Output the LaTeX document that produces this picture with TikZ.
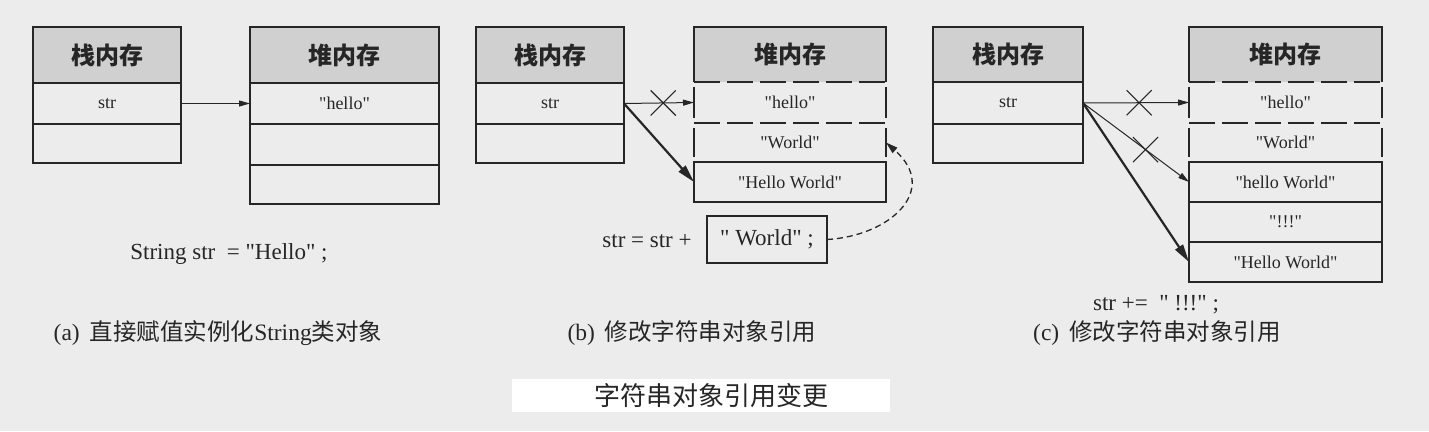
\documentclass[tikz,border=0pt]{standalone}
\usepackage{fontspec}
\setmainfont{Liberation Serif}[Ligatures=TeXOff]
\newfontfamily\cjk{Noto Sans CJK SC}
\usetikzlibrary{arrows.meta,shapes.misc}
\definecolor{pagebg}{HTML}{ECECEC}
\definecolor{headgray}{HTML}{D0D0D0}
\definecolor{ink}{HTML}{262626}
\begin{document}
\begin{tikzpicture}[x=1pt,y=-1pt,
  cellfont/.style={font=\fontsize{18}{18}\selectfont},
  codefont/.style={font=\fontsize{23}{23}\selectfont, text=ink, inner sep=0pt},
  capfont/.style={font=\fontsize{23.5}{23.5}\selectfont, text=ink, inner sep=0pt},
  box/.style={draw=ink, line width=1.2pt, inner sep=0pt, outer sep=0pt, text=ink, cellfont},
  boxthick/.style={box, line width=2pt},
  head/.style={box, fill=headgray, font=\cjk\bfseries\fontsize{24}{24}\selectfont},
  headopen/.style={fill=headgray, inner sep=0pt, outer sep=0pt, text=ink, font=\cjk\bfseries\fontsize{24}{24}\selectfont},
  cellopen/.style={inner sep=0pt, outer sep=0pt, text=ink, cellfont},
  rim/.style={draw=ink, line width=1.2pt},
  gcdash/.style={draw=ink, line width=2.2pt, dash pattern=on 26pt off 7pt},
  gcside/.style={draw=ink, line width=2.2pt, shorten <=5pt, shorten >=5pt},
  thinarrow/.style={draw=ink, line width=1pt, -{Triangle[length=11pt,width=6pt]}},
  thickarrow/.style={draw=ink, line width=2.2pt, -{Triangle[length=18pt,width=9pt]}},
  xmark/.style={cross out, draw=ink, line width=1.1pt, minimum width=24pt, minimum height=24pt, inner sep=0pt},
  linkcurve/.style={draw=ink, line width=1.3pt, dash pattern=on 6pt off 4pt, -{Triangle[length=12pt,width=7pt]}}
]
\fill[pagebg] (0,0) rectangle (1429,431);
\useasboundingbox (0,0) rectangle (1429,431);

% ---------- panel (a)
\node[head, minimum width=148pt, minimum height=56pt] (a-sh) at (107,55) {栈内存};
\node[box, minimum width=148pt, minimum height=41pt] (a-ss) at (107,103.5) {str};
\node[box, minimum width=148pt, minimum height=39pt] (a-se) at (107,143.5) {};
\node[head, minimum width=189pt, minimum height=56pt] (a-hh) at (344.5,55) {堆内存};
\node[box, minimum width=189pt, minimum height=41pt] (a-h1) at (344.5,103.5) {"hello"};
\node[box, minimum width=189pt, minimum height=41pt] (a-h2) at (344.5,144.5) {};
\node[box, minimum width=189pt, minimum height=39pt] (a-h3) at (344.5,184.5) {};
\draw[thinarrow] (a-ss.east) -- (a-h1.west);
\node[codefont] (a-code) at (229,254) {String str\ \ = "Hello" ;};
\node[capfont] (a-cap) at (218,333) {(a)\hspace{10pt}{\cjk 直接赋值实例化}String{\cjk 类对象}};

% ---------- panel (b)
\node[head, minimum width=148pt, minimum height=56pt] (b-sh) at (550,55) {栈内存};
\node[box, minimum width=148pt, minimum height=41pt] (b-ss) at (550,103.5) {str};
\node[box, minimum width=148pt, minimum height=39pt] (b-se) at (550,143.5) {};
\node[headopen, minimum width=192pt, minimum height=55pt] (b-hh) at (790,54.5) {堆内存};
\draw[rim] (b-hh.south west) |- (b-hh.north east) -- (b-hh.south east);
\node[cellopen, minimum width=192pt, minimum height=41pt] (b-h1) at (790,102.5) {"hello"};
\node[cellopen, minimum width=192pt, minimum height=39pt] (b-h2) at (790,142.5) {"World"};
\node[box, minimum width=192pt, minimum height=40pt] (b-h3) at (790,182) {"Hello World"};
\draw[gcdash] (b-h1.north west) -- (b-h1.north east);
\draw[gcdash] (b-h1.south west) -- (b-h1.south east);
\draw[gcside] (b-h1.north west) -- (b-h1.south west);
\draw[gcside] (b-h1.north east) -- (b-h1.south east);
\draw[gcside] (b-h2.north west) -- (b-h2.south west);
\draw[gcside] (b-h2.north east) -- (b-h2.south east);
\draw[thinarrow] (b-ss.east) -- node[xmark, pos=0.56] (b-x) {} (b-h1.west);
\draw[thickarrow] (b-ss.east) -- (b-h3.west);
\node[codefont] (b-pre) at (647,241) {str = str +};
\node[box, codefont, minimum width=120pt, minimum height=47pt] (b-code) at (767,239.5) {" World" ;};
\draw[linkcurve] (b-code.east) .. controls (890,236) and (940,190) .. (b-h2.east);
\node[capfont] (b-cap) at (692,333) {(b)\hspace{10pt}{\cjk 修改字符串对象引用}};

% ---------- panel (c)
\node[head, minimum width=150pt, minimum height=55pt] (c-sh) at (1008,54.5) {栈内存};
\node[box, minimum width=150pt, minimum height=42pt] (c-ss) at (1008,103) {str};
\node[box, minimum width=150pt, minimum height=39pt] (c-se) at (1008,143.5) {};
\node[headopen, minimum width=193pt, minimum height=55pt] (c-hh) at (1285.5,54.5) {堆内存};
\draw[rim] (c-hh.south west) |- (c-hh.north east) -- (c-hh.south east);
\node[cellopen, minimum width=193pt, minimum height=41pt] (c-h1) at (1285.5,102.5) {"hello"};
\node[cellopen, minimum width=193pt, minimum height=39pt] (c-h2) at (1285.5,142.5) {"World"};
\node[boxthick, minimum width=193pt, minimum height=40pt] (c-h3) at (1285.5,182) {"hello World"};
\node[boxthick, minimum width=193pt, minimum height=40pt] (c-h4) at (1285.5,222) {"!!!"};
\node[boxthick, minimum width=193pt, minimum height=40pt] (c-h5) at (1285.5,262) {"Hello World"};
\draw[gcdash] (c-h1.north west) -- (c-h1.north east);
\draw[gcdash] (c-h1.south west) -- (c-h1.south east);
\draw[gcside] (c-h1.north west) -- (c-h1.south west);
\draw[gcside] (c-h1.north east) -- (c-h1.south east);
\draw[gcside] (c-h2.north west) -- (c-h2.south west);
\draw[gcside] (c-h2.north east) -- (c-h2.south east);
\draw[thinarrow] (c-ss.east) -- node[xmark, pos=0.53] (c-x1) {} (c-h1.west);
\draw[thinarrow] (c-ss.east) -- node[xmark, pos=0.59] (c-x2) {} (c-h3.west);
\draw[thickarrow] (c-ss.east) -- (c-h5.west);
\node[codefont] (c-code) at (1156,305) {str +=\ \ " !!!" ;};
\node[capfont] (c-cap) at (1157,333) {(c)\hspace{10pt}{\cjk 修改字符串对象引用}};

% ---------- title
\node[fill=white, minimum width=378pt, minimum height=33pt, inner sep=0pt] (titlebox) at (701,395.5) {};
\node[font=\cjk\fontsize{26}{26}\selectfont, text=ink, inner sep=0pt] (title) at (711,396) {字符串对象引用变更};
\end{tikzpicture}
\end{document}
